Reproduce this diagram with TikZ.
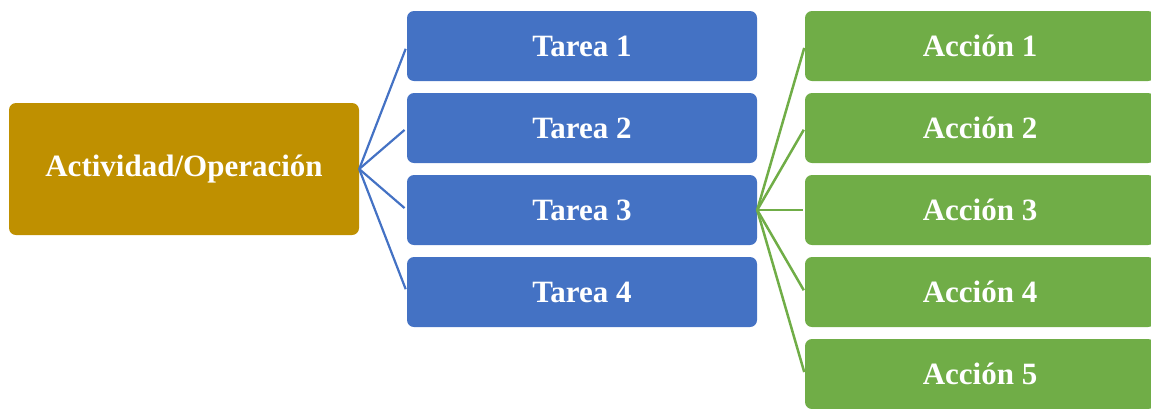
\documentclass[tikz,border=0pt]{standalone}
\usepackage{fontspec}
\setmainfont{Liberation Serif}
\definecolor{goldbox}{HTML}{BF9000}
\definecolor{bluebox}{HTML}{4472C4}
\definecolor{greenbox}{HTML}{70AD47}
\tikzset{
  box/.style={rectangle, rounded corners=7pt, draw=none, text=white,
    font=\fontsize{31}{36}\selectfont\bfseries, inner sep=0pt,
    minimum width=350pt, minimum height=70pt},
  mainbox/.style={box, fill=goldbox, minimum height=132pt},
  taskbox/.style={box, fill=bluebox},
  actbox/.style={box, fill=greenbox},
  bluelink/.style={draw=bluebox, line width=2.2pt, shorten >=3pt},
  greenlink/.style={draw=greenbox, line width=2.5pt, shorten >=2pt}
}
\begin{document}
\begin{tikzpicture}[x=1pt, y=-1pt]
  \useasboundingbox (0,0) rectangle (1151,408);
  \clip (0,0) rectangle (1151,408);

  % activity
  \node[mainbox] (act) at (184,169) {Actividad/Operación};

  % tasks
  \node[taskbox] (t1) at (582,46)  {Tarea 1};
  \node[taskbox] (t2) at (582,128) {Tarea 2};
  \node[taskbox] (t3) at (582,210) {Tarea 3};
  \node[taskbox] (t4) at (582,292) {Tarea 4};

  % actions
  \node[actbox] (a1) at (980,46)  {Acción 1};
  \node[actbox] (a2) at (980,128) {Acción 2};
  \node[actbox] (a3) at (980,210) {Acción 3};
  \node[actbox] (a4) at (980,292) {Acción 4};
  \node[actbox] (a5) at (980,374) {Acción 5};

  % links activity -> tasks
  \foreach \t in {t1,t2,t3,t4}
    \draw[bluelink] (act.east) -- (\t.west);

  % links task 3 -> actions
  \foreach \a in {a1,a2,a3,a4,a5}
    \draw[greenlink] (t3.east) -- (\a.west);
\end{tikzpicture}
\end{document}
